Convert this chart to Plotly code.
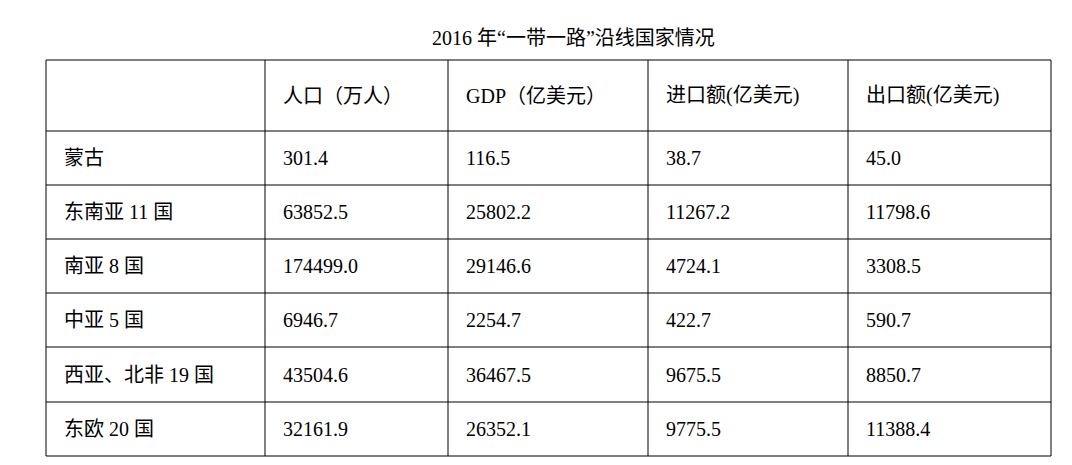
import plotly.graph_objects as go

headers = ["", "人口（万人）", "GDP（亿美元）", "进口额(亿美元)", "出口额(亿美元)"]
regions = ["蒙古", "东南亚 11 国", "南亚 8 国", "中亚 5 国", "西亚、北非 19 国", "东欧 20 国"]
population = ["301.4", "63852.5", "174499.0", "6946.7", "43504.6", "32161.9"]
gdp = ["116.5", "25802.2", "29146.6", "2254.7", "36467.5", "26352.1"]
imports = ["38.7", "11267.2", "4724.1", "422.7", "9675.5", "9775.5"]
exports = ["45.0", "11798.6", "3308.5", "590.7", "8850.7", "11388.4"]

W, H = 1072, 465
font = dict(family="Liberation Serif, Noto Sans CJK SC", size=20, color="black")

# table geometry in pixels
col_edges = [38, 257, 440, 640, 840, 1043]
row_edges = [52, 123, 177, 231, 285, 339, 394, 448]

columns = [regions, population, gdp, imports, exports]
rows = [headers] + [[col[i] for col in columns] for i in range(len(regions))]

fig = go.Figure()
for x in col_edges:
    fig.add_shape(type="line", xref="paper", yref="paper", x0=x / W, x1=x / W,
                  y0=1 - row_edges[0] / H, y1=1 - row_edges[-1] / H, line=dict(color="black", width=1))
for y in row_edges:
    fig.add_shape(type="line", xref="paper", yref="paper", x0=col_edges[0] / W, x1=col_edges[-1] / W,
                  y0=1 - y / H, y1=1 - y / H, line=dict(color="black", width=1))

for r, row in enumerate(rows):
    yc = (row_edges[r] + row_edges[r + 1]) / 2
    for c, txt in enumerate(row):
        if not txt:
            continue
        fig.add_annotation(text=txt, xref="paper", yref="paper", x=(col_edges[c] + 16) / W,
                           y=1 - yc / H, xanchor="left", yanchor="middle", showarrow=False, font=font)

fig.add_annotation(text="2016 年“一带一路”沿线国家情况", xref="paper", yref="paper", x=565 / W,
                   y=1 - 30 / H, xanchor="center", yanchor="middle", showarrow=False, font=font)

fig.update_xaxes(visible=False)
fig.update_yaxes(visible=False)
fig.update_layout(width=W, height=H, margin=dict(l=0, r=0, t=0, b=0),
                  paper_bgcolor="white", plot_bgcolor="white")
fig.write_html("out.html")
